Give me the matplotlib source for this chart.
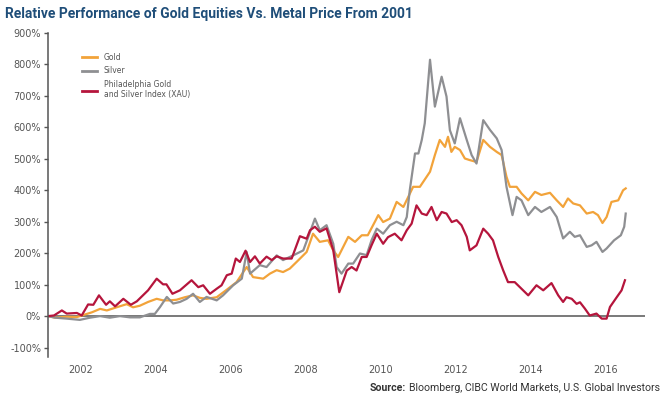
#!/usr/bin/env python3

import numpy as np
import matplotlib
matplotlib.use("Agg")
import matplotlib.pyplot as plt

# Relative performance since 2001, in percent
xau_years = [2001.12, 2001.28, 2001.49, 2001.62, 2001.89, 2002.02, 2002.19, 2002.33, 2002.48, 2002.67,
             2002.77, 2002.91, 2003.13, 2003.33, 2003.49, 2003.79, 2004.02, 2004.19, 2004.28, 2004.44,
             2004.64, 2004.95, 2005.13, 2005.26, 2005.44, 2005.62, 2005.75, 2005.89, 2006.02, 2006.13,
             2006.24, 2006.39, 2006.51, 2006.64, 2006.77, 2006.95, 2007.09, 2007.22, 2007.39, 2007.62,
             2007.84, 2008.02, 2008.11, 2008.24, 2008.37, 2008.55, 2008.73, 2008.89, 2009.09, 2009.22,
             2009.35, 2009.49, 2009.62, 2009.75, 2009.89, 2010.06, 2010.19, 2010.37, 2010.55, 2010.69,
             2010.82, 2010.95, 2011.09, 2011.22, 2011.35, 2011.49, 2011.62, 2011.75, 2011.89, 2012.02,
             2012.15, 2012.29, 2012.37, 2012.55, 2012.73, 2012.86, 2012.99, 2013.13, 2013.26, 2013.39,
             2013.57, 2013.75, 2013.93, 2014.15, 2014.33, 2014.55, 2014.73, 2014.86, 2014.95, 2015.09,
             2015.22, 2015.31, 2015.44, 2015.57, 2015.75, 2015.89, 2016.02, 2016.11, 2016.29, 2016.42,
             2016.51]
xau = [0, 2, 18, 8, 10, 2, 37, 36, 66, 36,
       47, 31, 55, 36, 47, 82, 119, 101, 101, 71,
       82, 114, 92, 98, 71, 87, 98, 130, 135, 183,
       172, 208, 172, 190, 167, 189, 178, 190, 183, 183,
       254, 246, 273, 284, 268, 279, 209, 76, 145, 156,
       145, 188, 188, 225, 262, 230, 251, 262, 241, 273,
       294, 352, 326, 321, 347, 305, 331, 326, 299, 305,
       289, 252, 209, 225, 278, 262, 241, 188, 146, 108,
       108, 87, 66, 98, 82, 105, 66, 45, 60, 55,
       39, 44, 24, 2, 8, -8, -8, 29, 60, 82,
       114]

gold_years = [2001.12, 2001.31, 2001.62, 2001.89, 2002.05, 2002.29, 2002.51, 2002.69, 2002.95, 2003.22,
              2003.39, 2003.57, 2003.79, 2004.02, 2004.19, 2004.37, 2004.55, 2004.77, 2004.99, 2005.17,
              2005.35, 2005.62, 2005.89, 2006.15, 2006.42, 2006.59, 2006.86, 2007.04, 2007.22, 2007.39,
              2007.57, 2007.75, 2008.02, 2008.19, 2008.37, 2008.59, 2008.73, 2008.86, 2009.13, 2009.31,
              2009.49, 2009.65, 2009.84, 2009.93, 2010.06, 2010.24, 2010.42, 2010.60, 2010.73, 2010.86,
              2011.04, 2011.22, 2011.31, 2011.44, 2011.57, 2011.71, 2011.79, 2011.88, 2011.97, 2012.11,
              2012.24, 2012.37, 2012.55, 2012.73, 2012.91, 2013.09, 2013.22, 2013.35, 2013.44, 2013.62,
              2013.75, 2013.93, 2014.11, 2014.28, 2014.51, 2014.69, 2014.86, 2014.99, 2015.13, 2015.31,
              2015.49, 2015.66, 2015.79, 2015.91, 2016.02, 2016.15, 2016.33, 2016.46, 2016.53]
gold = [0, -5, -2, -3, 3, 12, 23, 18, 28, 38,
        28, 33, 45, 55, 50, 50, 52, 60, 66, 58,
        55, 60, 84, 108, 156, 124, 119, 135, 146, 140,
        151, 172, 204, 262, 236, 241, 209, 188, 252, 236,
        257, 257, 300, 321, 299, 310, 363, 347, 379, 411,
        411, 443, 459, 512, 560, 538, 570, 522, 538, 528,
        501, 496, 490, 560, 538, 522, 512, 443, 411, 411,
        390, 368, 395, 385, 392, 368, 347, 374, 358, 352,
        326, 331, 321, 296, 315, 363, 368, 400, 406]

silver_years = [2001.12, 2001.31, 2001.62, 2001.97, 2002.24, 2002.51, 2002.77, 2003.04, 2003.31, 2003.57,
                2003.84, 2003.97, 2004.11, 2004.29, 2004.46, 2004.64, 2004.82, 2004.99, 2005.17, 2005.35,
                2005.62, 2005.79, 2006.06, 2006.29, 2006.42, 2006.51, 2006.77, 2006.95, 2007.22, 2007.39,
                2007.66, 2007.93, 2008.06, 2008.24, 2008.37, 2008.55, 2008.73, 2008.82, 2008.95, 2009.13,
                2009.26, 2009.44, 2009.62, 2009.75, 2009.89, 2010.06, 2010.24, 2010.42, 2010.60, 2010.69,
                2010.77, 2010.91, 2011.00, 2011.09, 2011.17, 2011.31, 2011.44, 2011.62, 2011.75, 2011.84,
                2011.97, 2012.11, 2012.29, 2012.42, 2012.55, 2012.73, 2012.91, 2013.09, 2013.22, 2013.35,
                2013.51, 2013.62, 2013.75, 2013.93, 2014.11, 2014.28, 2014.51, 2014.69, 2014.86, 2015.04,
                2015.17, 2015.31, 2015.49, 2015.62, 2015.75, 2015.91, 2016.02, 2016.22, 2016.40, 2016.49,
                2016.53]
silver = [0, -5, -8, -12, -5, 0, -5, 0, -4, -4,
          7, 7, 29, 61, 40, 45, 55, 71, 45, 61,
          50, 66, 98, 119, 204, 135, 162, 156, 193, 178,
          193, 209, 251, 310, 273, 289, 230, 156, 135, 167,
          167, 199, 194, 241, 278, 262, 289, 300, 289, 315,
          400, 517, 517, 560, 613, 815, 666, 761, 698, 591,
          549, 629, 560, 512, 485, 623, 592, 565, 528, 411,
          321, 379, 368, 321, 347, 331, 347, 315, 247, 268,
          252, 257, 220, 225, 236, 204, 215, 241, 257, 284,
          326]

year_ticks = [2002, 2004, 2006, 2008, 2010, 2012, 2014, 2016]
pct_ticks = [-100, 0, 100, 200, 300, 400, 500, 600, 700, 800, 900]

fig = plt.figure(figsize=(6.7, 4.0), dpi=100)
ax = fig.add_axes([0.0716, 0.1075, 0.8914, 0.81])

ax.plot(gold_years, gold, color='#F2A33A', lw=1.6, label='Gold')
ax.plot(silver_years, silver, color='#8E8F92', lw=1.6, label='Silver')
ax.plot(xau_years, xau, color='#B5153C', lw=1.6,
        label='Philadelphia Gold\nand Silver Index (XAU)')
ax.axhline(0, color='#555555', lw=1.1, zorder=0)

ax.set_xlim(2001.12, 2017.05)
ax.set_ylim(-130, 900)
ax.set_yticks(pct_ticks)
ax.set_yticklabels(['{}%'.format(v) for v in pct_ticks])
ax.set_xticks(year_ticks)
ax.set_xticklabels([str(y) for y in year_ticks])

for s in ['top', 'right', 'bottom']:
    ax.spines[s].set_visible(False)
ax.spines['left'].set_color('#555555')
ax.spines['left'].set_linewidth(1.1)
ax.tick_params(axis='y', direction='out', length=3, width=1, color='#555555',
               labelsize=7, labelcolor='#555555', pad=2)
ax.tick_params(axis='x', length=0, labelsize=7, labelcolor='#555555', pad=6)

leg = ax.legend(loc='upper left', bbox_to_anchor=(0.045, 0.96), frameon=False,
                fontsize=5.5, handlelength=2.0, handletextpad=0.9, labelspacing=0.6)
for t in leg.get_texts():
    t.set_color('#555555')
for l in leg.get_lines():
    l.set_linewidth(2)

fig.text(0.008, 0.965, 'Relative Performance of Gold Equities Vs. Metal Price From 2001',
         family=['Roboto', 'DejaVu Sans'], fontweight='bold',
         fontsize=10, color='#1F4E79', ha='left', va='center')

# source line, right aligned, with bold "Source:" in front
src = fig.text(0.985, 0.03, 'Bloomberg, CIBC World Markets, U.S. Global Investors',
               family=['Roboto', 'DejaVu Sans'], fontsize=7.6, color='#333333',
               ha='right', va='center')
fig.canvas.draw()
bb = src.get_window_extent().transformed(fig.transFigure.inverted())
fig.text(bb.x0 - 0.004, 0.03, 'Source:', family=['Roboto', 'DejaVu Sans'],
         fontweight='bold', fontsize=7.6, color='#333333', ha='right', va='center')

fig.savefig('out.png', dpi=100)
